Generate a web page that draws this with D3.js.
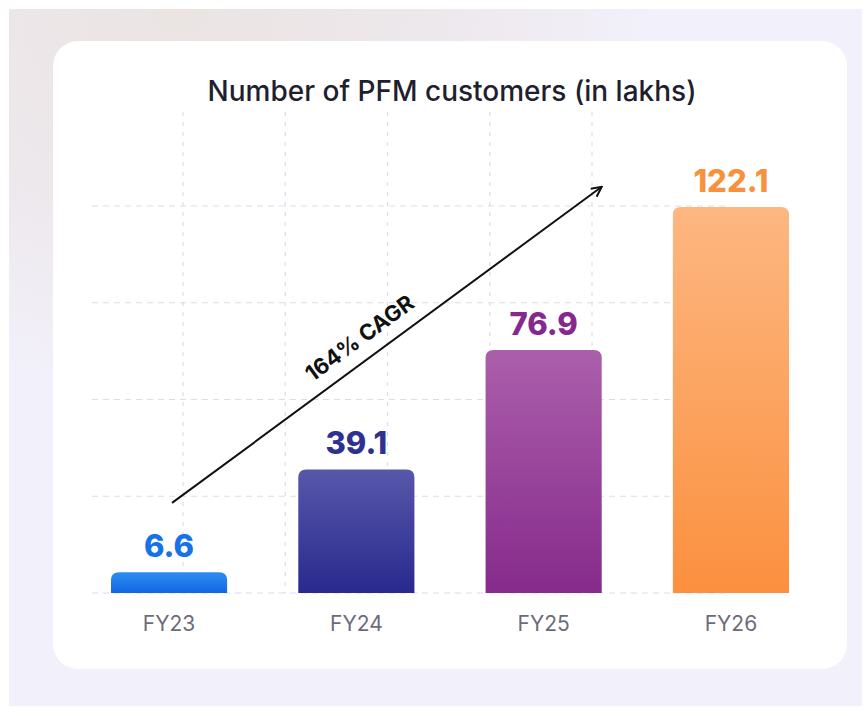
<!DOCTYPE html>
<html>
<head>
<meta charset="utf-8">
<script src="https://cdn.jsdelivr.net/npm/d3@7"></script>
<style>
  html, body { margin: 0; padding: 0; background: #fff; }
  svg { display: block; font-family: Inter, "Noto Sans", sans-serif; }
</style>
</head>
<body>
<svg id="chart" width="867" height="720"></svg>
<script>
// data
var years = ["FY23", "FY24", "FY25", "FY26"];
var customers = [6.6, 39.1, 76.9, 122.1];
var chartTitle = "Number of PFM customers (in lakhs)";
var cagrLabel = "164% CAGR";
var cagrFrom = 28.5, cagrTo = 128.5;   // arrow ends, in lakhs

// palette: [top, bottom, label]
var palette = [
  ["#2b8ef2", "#1466e2", "#1672e8"],
  ["#5757aa", "#29298e", "#2e3192"],
  ["#ab5fab", "#862a8b", "#86298f"],
  ["#fdb781", "#fb903f", "#f7913e"]
];

var svg = d3.select("#chart");
var defs = svg.append("defs");

// page background
var warm = defs.append("radialGradient").attr("id", "warm")
  .attr("cx", 0.2).attr("cy", 0).attr("r", 0.55);
warm.append("stop").attr("offset", 0).attr("stop-color", "#ebe4e3");
warm.append("stop").attr("offset", 0.55).attr("stop-color", "#ede8ec");
warm.append("stop").attr("offset", 1).attr("stop-color", "#f2f0fa");

svg.append("rect").attr("x", 9).attr("y", 9).attr("width", 853).attr("height", 697)
  .attr("fill", "url(#warm)");

// card
svg.append("rect").attr("x", 53).attr("y", 41).attr("width", 794).attr("height", 628)
  .attr("rx", 25).attr("fill", "#fff");

svg.append("text")
  .attr("x", 452).attr("y", 101)
  .attr("text-anchor", "middle")
  .attr("font-size", 28).attr("font-weight", 500)
  .attr("fill", "#1f1f30")
  .text(chartTitle);

// scales
var x = d3.scaleBand().domain(years).range([111, 789]).paddingInner(0.38).paddingOuter(0);
var y = d3.scaleLinear().domain([0, 122.1]).range([593, 207]);
var gridY = d3.scaleLinear().domain([0, 4]).range([593, 206]);
var gridX = d3.scaleLinear().domain([0, 4]).range([183, 592]);

// decorative dashed grid
var grid = svg.append("g").attr("stroke", "#dedbec").attr("stroke-width", 1.2)
  .attr("stroke-dasharray", "6,5");
grid.selectAll(".h").data(d3.range(5)).join("line")
  .attr("x1", 92).attr("x2", 730)
  .attr("y1", function(d) { return gridY(d); })
  .attr("y2", function(d) { return gridY(d); });
grid.selectAll(".v").data(d3.range(5)).join("line")
  .attr("stroke-dasharray", "4,6")
  .attr("x1", function(d) { return gridX(d); })
  .attr("x2", function(d) { return gridX(d); })
  .attr("y1", 112).attr("y2", 593);

// bar gradients
palette.forEach(function(c, i) {
  var g = defs.append("linearGradient").attr("id", "bar" + i)
    .attr("x1", 0).attr("y1", 0).attr("x2", 0).attr("y2", 1);
  g.append("stop").attr("offset", 0).attr("stop-color", c[0]);
  g.append("stop").attr("offset", 1).attr("stop-color", c[1]);
});

function topRounded(x0, y0, w, h, r) {
  r = Math.min(r, h, w / 2);
  return "M" + x0 + "," + (y0 + h) +
    "V" + (y0 + r) +
    "Q" + x0 + "," + y0 + " " + (x0 + r) + "," + y0 +
    "H" + (x0 + w - r) +
    "Q" + (x0 + w) + "," + y0 + " " + (x0 + w) + "," + (y0 + r) +
    "V" + (y0 + h) + "Z";
}

var bars = svg.append("g").selectAll("g").data(years).join("g");

bars.append("path")
  .attr("d", function(d, i) {
    return topRounded(x(d), y(customers[i]), x.bandwidth(), y(0) - y(customers[i]), 8);
  })
  .attr("fill", function(d, i) { return "url(#bar" + i + ")"; });

bars.append("text")
  .attr("x", function(d) { return x(d) + x.bandwidth() / 2; })
  .attr("y", function(d, i) { return y(customers[i]) - 15; })
  .attr("text-anchor", "middle")
  .attr("font-size", 31).attr("font-weight", 800)
  .attr("fill", function(d, i) { return palette[i][2]; })
  .text(function(d, i) { return customers[i]; });

bars.append("text")
  .attr("x", function(d) { return x(d) + x.bandwidth() / 2; })
  .attr("y", 631)
  .attr("text-anchor", "middle")
  .attr("font-size", 21)
  .attr("fill", "#6d6b7b")
  .text(function(d) { return d; });

// CAGR arrow
var ax1 = x("FY23") + x.bandwidth() / 2 + 3, ay1 = y(cagrFrom);
var ax2 = x("FY25") + x.bandwidth(), ay2 = y(cagrTo);
var ang = Math.atan2(ay2 - ay1, ax2 - ax1) * 180 / Math.PI;

defs.append("marker").attr("id", "head")
  .attr("viewBox", "0 0 12 12").attr("refX", 11).attr("refY", 6)
  .attr("markerWidth", 12).attr("markerHeight", 12).attr("markerUnits", "userSpaceOnUse")
  .attr("orient", "auto")
  .append("path").attr("d", "M1,1 L11,6 L1,11")
  .attr("fill", "none").attr("stroke", "#111").attr("stroke-width", 2);

svg.append("line")
  .attr("x1", ax1).attr("y1", ay1).attr("x2", ax2).attr("y2", ay2)
  .attr("stroke", "#111").attr("stroke-width", 2)
  .attr("marker-end", "url(#head)");

svg.append("text")
  .attr("transform", "translate(" + ((ax1 + ax2) / 2) + "," + ((ay1 + ay2) / 2) + ") rotate(" + ang + ")")
  .attr("x", -18).attr("y", -14)
  .attr("text-anchor", "middle")
  .attr("font-size", 22).attr("font-weight", 700)
  .attr("fill", "#111")
  .text(cagrLabel);
</script>
</body>
</html>
